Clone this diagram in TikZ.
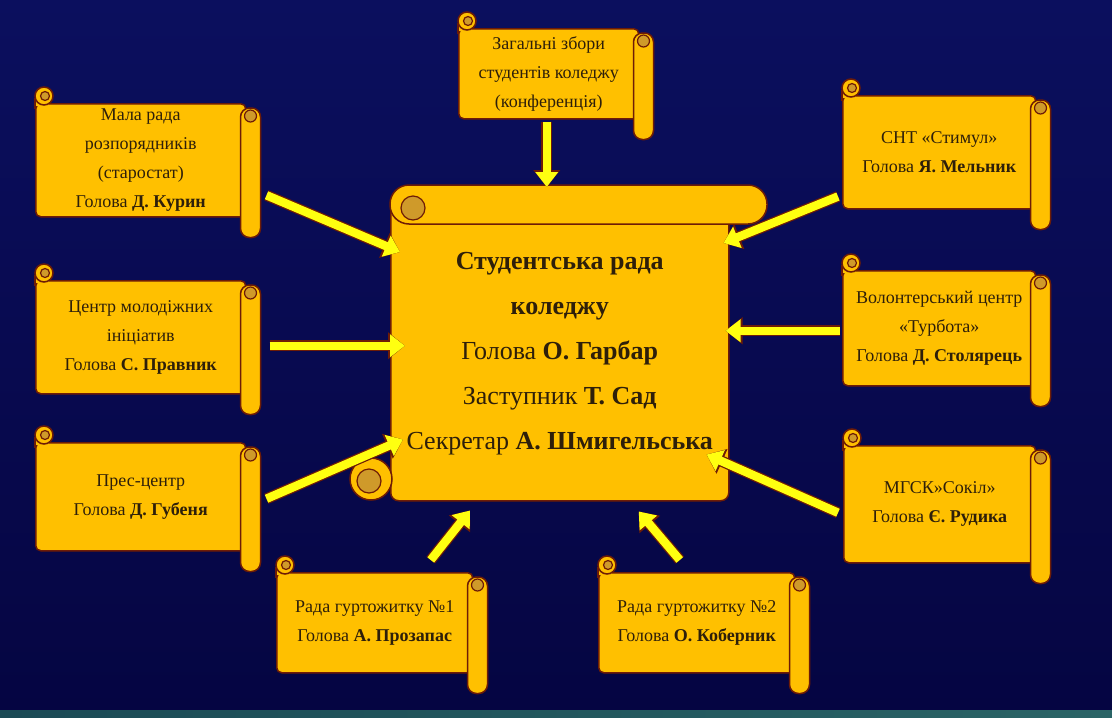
\documentclass[tikz,border=0pt]{standalone}
\usepackage{fontspec}
\setmainfont{Liberation Serif}
\usepackage{xcolor}
\usetikzlibrary{arrows.meta}

\definecolor{navytop}{HTML}{0B0F5E}
\definecolor{navydeep}{HTML}{050542}
\definecolor{stripdark}{HTML}{1B4A55}
\definecolor{striplight}{HTML}{2A6466}
\definecolor{scrollgold}{HTML}{FFC000}
\definecolor{scrollrim}{HTML}{6E1C06}
\definecolor{curlgold}{HTML}{CF9A2A}
\definecolor{arrowyellow}{HTML}{FFFF10}
\definecolor{inkdark}{HTML}{2E1F0A}

\newcommand{\rollon}[1]{%
    \draw[rollpart, rounded corners=9pt] ([xshift=-6pt,yshift=-5pt]#1.north east) rectangle ([xshift=14pt,yshift=-20pt]#1.south east);
    \draw[curlpart] ([xshift=4pt,yshift=-13pt]#1.north east) circle[radius=6pt];
    \fill[scrollgold] ([xshift=1pt,yshift=4pt]#1.north west) rectangle ([xshift=14pt,yshift=-3pt]#1.north west);
    \draw[draw=scrollrim, line width=1.5pt] ([yshift=-6pt]#1.north west) -- ([yshift=5pt]#1.north west);
    \draw[rollpart] ([xshift=9pt,yshift=7pt]#1.north west) circle[radius=9pt];
    \draw[curlpart] ([xshift=10pt,yshift=7pt]#1.north west) circle[radius=4.5pt];
}

\begin{document}
\begin{tikzpicture}[x=1pt, y=-1pt,
    rollpart/.style={draw=scrollrim, line width=1.5pt, fill=scrollgold},
    curlpart/.style={draw=scrollrim, line width=1.2pt, fill=curlgold},
    scroll/.style={rollpart, rounded corners=5pt, anchor=north west, inner sep=0pt,
        align=center, text=inkdark, font=\fontsize{18}{29}\selectfont},
    council/.style={scroll, rounded corners=8pt, font=\fontsize{26}{45}\selectfont},
    feed/.style={-{Triangle[length=15pt,width=22pt]}, draw=arrowyellow, line width=8.5pt,
        preaction={draw=scrollrim, line width=11pt, -{Triangle[length=17pt,width=26pt]}}}]

    \fill[top color=navytop, bottom color=navydeep] (0,0) rectangle (1112,710);
    \fill[left color=stripdark, right color=striplight] (0,710) rectangle (1112,718);

    \node[council, minimum width=338pt, minimum height=295pt] (council) at (390,205)
        {\textbf{Студентська рада}\\\textbf{коледжу}\\Голова \textbf{О. Гарбар}\\Заступник \textbf{Т. Сад}\\Секретар \textbf{А. Шмигельська}};
    \draw[rollpart] (371,479) circle[radius=21pt];
    \draw[curlpart] (369,481) circle[radius=12pt];
    \draw[rollpart, rounded corners=19pt] (390,185) rectangle (767,224);
    \draw[curlpart] (413,208) circle[radius=12pt];

    \node[scroll, minimum width=180pt, minimum height=90pt] (zbory) at (458,28)
        {Загальні збори\\студентів коледжу\\(конференція)};
    \rollon{zbory}
    \node[scroll, minimum width=210pt, minimum height=113pt] (mala) at (35,103)
        {Мала рада\\розпорядників\\(старостат)\\Голова \textbf{Д. Курин}};
    \rollon{mala}
    \node[scroll, minimum width=210pt, minimum height=113pt] (centr) at (35,280)
        {Центр молодіжних\\ініціатив\\Голова \textbf{С. Правник}};
    \rollon{centr}
    \node[scroll, minimum width=210pt, minimum height=108pt] (pres) at (35,442)
        {Прес-центр\\Голова \textbf{Д. Губеня}};
    \rollon{pres}
    \node[scroll, minimum width=193pt, minimum height=113pt] (snt) at (842,95)
        {СНТ «Стимул»\\Голова \textbf{Я. Мельник}};
    \rollon{snt}
    \node[scroll, minimum width=193pt, minimum height=115pt] (volont) at (842,270)
        {Волонтерський центр\\«Турбота»\\Голова \textbf{Д. Столярець}};
    \rollon{volont}
    \node[scroll, minimum width=192pt, minimum height=117pt] (mgsk) at (843,445)
        {МГСК»Сокіл»\\Голова \textbf{Є. Рудика}};
    \rollon{mgsk}
    \node[scroll, minimum width=196pt, minimum height=100pt] (rada1) at (276,572)
        {Рада гуртожитку №1\\Голова \textbf{А. Прозапас}};
    \rollon{rada1}
    \node[scroll, minimum width=196pt, minimum height=100pt] (rada2) at (598,572)
        {Рада гуртожитку №2\\Голова \textbf{О. Коберник}};
    \rollon{rada2}

    \draw[feed] ([xshift=-2pt,yshift=-2pt]zbory.south) -- ([xshift=-13pt,yshift=18pt]council.north);
    \draw[feed] ([xshift=20pt,yshift=-35pt]mala.east) -- ([xshift=10pt,yshift=-47pt]council.north west);
    \draw[feed] ([xshift=23pt,yshift=-8.5pt]centr.east) -- ([xshift=15pt,yshift=7.5pt]council.west);
    \draw[feed] ([xshift=20pt,yshift=-2pt]pres.east) -- ([xshift=13pt,yshift=62pt]council.south west);
    \draw[feed] ([xshift=-4pt,yshift=13pt]snt.south west) -- ([xshift=-6pt,yshift=-38pt]council.north east);
    \draw[feed] ([xshift=-2pt,yshift=-2.5pt]volont.west) -- ([xshift=-4pt,yshift=22.5pt]council.east);
    \draw[feed] ([xshift=-5pt,yshift=-8.5pt]mgsk.west) -- ([xshift=-23pt,yshift=47pt]council.south east);
    \draw[feed] ([xshift=56pt,yshift=12pt]rada1.north) -- ([xshift=80pt,yshift=-9pt]council.south west);
    \draw[feed] ([xshift=-17pt,yshift=12pt]rada2.north) -- ([xshift=79pt,yshift=-10pt]council.south);
\end{tikzpicture}
\end{document}
